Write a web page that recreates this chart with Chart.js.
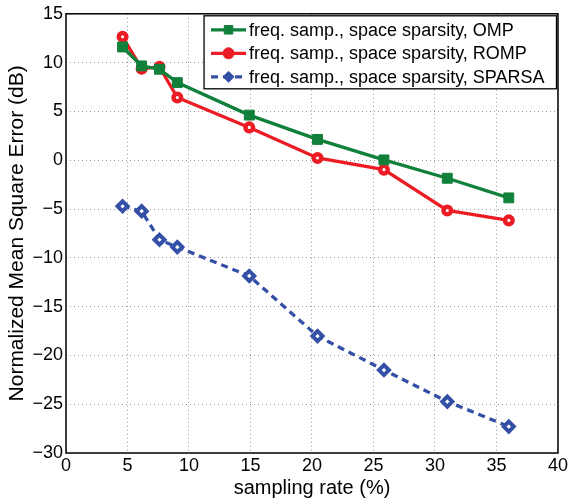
<!DOCTYPE html>
<html>
<head>
<meta charset="utf-8">
<script src="https://cdn.jsdelivr.net/npm/chart.js@4/dist/chart.umd.min.js"></script>
<style>
  body { margin: 0; background: #fff; }
</style>
</head>
<body>
<canvas id="grafica" width="570" height="501"></canvas>
<script>
// sampling rate (%)
var rates = [4.6, 6.15, 7.6, 9.05, 14.9, 20.45, 25.85, 31.0, 36.0];
// NMSE (dB)
var omp    = [11.6, 9.66, 9.32, 7.95, 4.62, 2.13, 0.03, -1.85, -3.86];
var romp   = [12.65, 9.38, 9.56, 6.42, 3.36, 0.23, -0.97, -5.15, -6.17];
var sparsa = [-4.72, -5.22, -8.15, -8.9, -11.86, -18.02, -21.5, -24.73, -27.29];
var names = [
    'freq. samp., space sparsity, OMP',
    'freq. samp., space sparsity, ROMP',
    'freq. samp., space sparsity, SPARSA'
];
var xTicks = [0, 5, 10, 15, 20, 25, 30, 35, 40];
var yTicks = [-30, -25, -20, -15, -10, -5, 0, 5, 10, 15];

function puntos(vals) {
    return vals.map(function (v, i) { return {x: rates[i], y: v}; });
}
function menos(v) {
    return v < 0 ? '\u2212' + Math.abs(v) : '' + v;
}

var fuente = 'Liberation Sans, Arial, Helvetica, sans-serif';

// black frame round the axes
var marco = {
    id: 'marco',
    afterDatasetsDraw: function (chart) {
        var a = chart.chartArea, ctx = chart.ctx;
        ctx.save();
        ctx.strokeStyle = '#000';
        ctx.lineWidth = 1.5;
        ctx.strokeRect(a.left, a.top, a.right - a.left, a.bottom - a.top);
        ctx.restore();
    }
};

// matlab style legend box
var leyenda = {
    id: 'leyenda',
    afterDraw: function (chart) {
        var a = chart.chartArea, ctx = chart.ctx;
        ctx.save();
        ctx.font = '18px ' + fuente;
        var ancho = 0;
        chart.data.datasets.forEach(function (d) {
            ancho = Math.max(ancho, ctx.measureText(d.label).width);
        });
        var w = 45 + ancho + 12, h = 73;
        var x0 = a.right - 1.5 - w, y0 = a.top + 2;
        ctx.fillStyle = '#fff';
        ctx.fillRect(x0, y0, w, h);
        ctx.strokeStyle = '#000';
        ctx.lineWidth = 1.3;
        ctx.strokeRect(x0, y0, w, h);
        chart.data.datasets.forEach(function (d, i) {
            var yy = y0 + 14 + i * 23.5;
            ctx.save();
            ctx.strokeStyle = d.borderColor;
            ctx.lineWidth = d.borderWidth;
            ctx.setLineDash(d.borderDash || []);
            ctx.beginPath();
            ctx.moveTo(x0 + 7, yy);
            ctx.lineTo(x0 + 42, yy);
            ctx.stroke();
            ctx.setLineDash([]);
            ctx.fillStyle = d.borderColor;
            ctx.strokeStyle = d.borderColor;
            ctx.lineWidth = 1;
            Chart.helpers.drawPoint(ctx, {pointStyle: d.pointStyle, radius: d.pointStyle === 'rect' ? 6 : 5.5, borderWidth: 1, rotation: 0}, x0 + 24.5, yy);
            ctx.restore();
            ctx.fillStyle = '#000';
            ctx.textBaseline = 'middle';
            ctx.fillText(d.label, x0 + 45, yy + 1);
        });
        ctx.restore();
    }
};

var ctx = document.getElementById('grafica').getContext('2d');
var myChart = new Chart(ctx, {
    type: 'line',
    data: {
        datasets: [{
            label: names[0],
            data: puntos(omp),
            borderColor: '#11803a',
            borderWidth: 3.3,
            pointStyle: 'rect',
            pointRadius: 7,
            pointBackgroundColor: '#11803a',
            pointBorderColor: '#11803a',
            pointBorderWidth: 1
        }, {
            label: names[1],
            data: puntos(romp),
            borderColor: '#ec1c24',
            borderWidth: 3.3,
            pointStyle: 'circle',
            pointRadius: 3.8,
            pointBackgroundColor: '#fff',
            pointBorderColor: '#ec1c24',
            pointBorderWidth: 4.5
        }, {
            label: names[2],
            data: puntos(sparsa),
            borderColor: '#3450a6',
            borderWidth: 3.3,
            borderDash: [7, 5],
            pointStyle: 'rectRot',
            pointRadius: 5,
            pointBackgroundColor: '#fff',
            pointBorderColor: '#3450a6',
            pointBorderWidth: 4
        }]
    },
    options: {
        responsive: false,
        animation: false,
        layout: { padding: { top: 13, right: 11, left: 0, bottom: 0 } },
        elements: { line: { tension: 0 } },
        scales: {
            x: {
                type: 'linear',
                min: 0,
                max: 40,
                afterFit: function (s) { s.height = 48; },
                afterBuildTicks: function (s) { s.ticks = xTicks.map(function (v) { return {value: v}; }); },
                ticks: {
                    color: '#000',
                    padding: 2,
                    maxRotation: 0,
                    font: { family: fuente, size: 18 },
                    callback: function (v) { return menos(v); }
                },
                grid: { color: '#999', drawTicks: false },
                border: { display: false, dash: [1, 3] },
                title: {
                    display: true,
                    text: 'sampling rate (%)',
                    color: '#000',
                    font: { family: fuente, size: 20 },
                    padding: { top: 0, bottom: 1 }
                }
            },
            y: {
                min: -30,
                max: 15,
                afterFit: function (s) { s.width = 66; },
                afterBuildTicks: function (s) { s.ticks = yTicks.map(function (v) { return {value: v}; }); },
                ticks: {
                    color: '#000',
                    padding: 3,
                    font: { family: fuente, size: 18 },
                    callback: function (v) { return menos(v); }
                },
                grid: { color: '#999', drawTicks: false },
                border: { display: false, dash: [1, 3] },
                title: {
                    display: true,
                    text: 'Normalized Mean Square Error (dB)',
                    color: '#000',
                    font: { family: fuente, size: 21 },
                    padding: { top: 5, bottom: 0 }
                }
            }
        },
        plugins: {
            legend: { display: false },
            tooltip: { enabled: false }
        }
    },
    plugins: [marco, leyenda]
});
</script>
</body>
</html>
